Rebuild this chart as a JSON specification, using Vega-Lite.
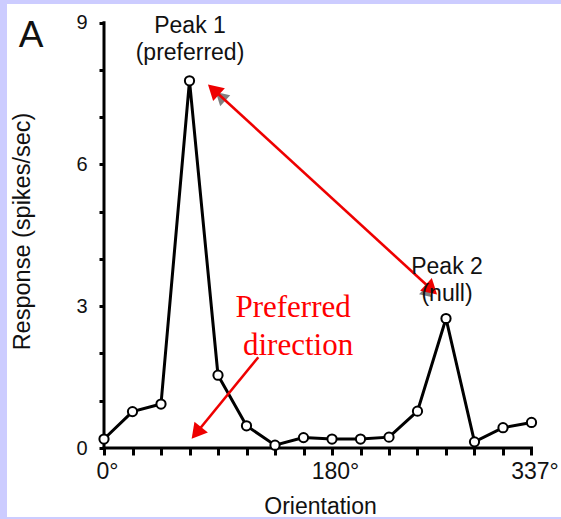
{
  "$schema": "https://vega.github.io/schema/vega-lite/v6.json",
  "width": 554,
  "height": 513,
  "autosize": {"type": "none"},
  "padding": {"left": 7, "top": 4, "right": 0, "bottom": 2},
  "background": "#ccccff",
  "config": {
    "view": {"fill": "white", "stroke": null},
    "font": "Liberation Sans",
    "axis": {
      "grid": false,
      "domain": false,
      "tickColor": "#000000",
      "tickWidth": 3,
      "labelColor": "#111111",
      "titleColor": "#111111",
      "labelFont": "Liberation Sans",
      "titleFont": "Liberation Sans",
      "titleFontWeight": "normal",
      "labelOverlap": false,
      "labelFlush": false
    }
  },
  "datasets": {
    "tuning": [
      {"orientation": 0, "response": 0.19},
      {"orientation": 22.5, "response": 0.77},
      {"orientation": 45, "response": 0.93},
      {"orientation": 67.5, "response": 7.77},
      {"orientation": 90, "response": 1.54},
      {"orientation": 112.5, "response": 0.47},
      {"orientation": 135, "response": 0.06},
      {"orientation": 157.5, "response": 0.22},
      {"orientation": 180, "response": 0.19},
      {"orientation": 202.5, "response": 0.19},
      {"orientation": 225, "response": 0.23},
      {"orientation": 247.5, "response": 0.78},
      {"orientation": 270, "response": 2.74},
      {"orientation": 292.5, "response": 0.13},
      {"orientation": 315, "response": 0.43},
      {"orientation": 337.5, "response": 0.54}
    ],
    "axisLines": [
      {"orientation": 0, "response": 0, "orientation2": 337.5, "response2": 0},
      {"orientation": 0, "response": 0, "orientation2": 0, "response2": 9}
    ],
    "arrows": [
      {"arrow": "peaks", "orientation": 87.9, "response": 7.55, "orientation2": 257.1, "response2": 3.39},
      {"arrow": "preferred", "orientation": 121.8, "response": 1.92, "orientation2": 74.2, "response2": 0.36}
    ],
    "heads": [
      {"head": "peak1", "orientation": 87.9, "response": 7.55},
      {"head": "peak2", "orientation": 257.1, "response": 3.39},
      {"head": "preferred", "orientation": 74.2, "response": 0.36},
      {"head": "peak1-shadow", "orientation": 93.2, "response": 7.41},
      {"head": "peak2-shadow", "orientation": 254.2, "response": 3.3}
    ],
    "labels": [
      {"role": "panel", "label": "A", "orientation": -57.5, "response": 8.48},
      {"role": "peak", "label": "Peak 1", "orientation": 67.9, "response": 8.79},
      {"role": "peak", "label": "(preferred)", "orientation": 67.9, "response": 8.22},
      {"role": "peak", "label": "Peak 2", "orientation": 270.8, "response": 3.68},
      {"role": "peak", "label": "(null)", "orientation": 270.8, "response": 3.1},
      {"role": "note", "label": "Preferred", "orientation": 149.3, "response": 2.77},
      {"role": "note", "label": "direction", "orientation": 153.2, "response": 1.97}
    ]
  },
  "encoding": {
    "x": {
      "field": "orientation",
      "type": "quantitative",
      "scale": {"domain": [-76.58, 360.79], "nice": false, "zero": false},
      "axis": {
        "orient": "bottom",
        "offset": -69,
        "values": [0, 22.5, 45, 67.5, 90, 112.5, 135, 157.5, 180, 202.5, 225, 247.5, 270, 292.5, 315, 337.5],
        "labelExpr": "datum.value === 0 ? '0°' : datum.value === 180 ? '180°' : datum.value === 337.5 ? '337°' : ''",
        "labelFontSize": 23,
        "labelOffset": 3,
        "labelPadding": 5,
        "tickSize": 7,
        "tickWidth": 3,
        "tickColor": "#000000",
        "title": "Orientation",
        "titleFontSize": 23,
        "titleX": 313,
        "titleY": 65,
        "titleBaseline": "alphabetic"
      }
    },
    "y": {
      "field": "response",
      "type": "quantitative",
      "scale": {"domain": [-1.46, 9.395], "nice": false, "zero": false},
      "axis": {
        "orient": "left",
        "offset": -97,
        "values": [0, 1, 2, 3, 4, 5, 6, 7, 8, 9],
        "labelExpr": "datum.value % 3 === 0 ? datum.label : ''",
        "labelFontSize": 20,
        "labelPadding": 12,
        "tickSize": 5,
        "tickWidth": 3,
        "tickColor": "#000000",
        "title": "Response (spikes/sec)",
        "titleFontSize": 23.5,
        "titleAngle": -90,
        "titleX": -74.5,
        "titleY": 227,
        "titleBaseline": "alphabetic"
      }
    }
  },
  "layer": [
    {
      "data": {"name": "axisLines"},
      "mark": {"type": "rule", "color": "#000000", "strokeWidth": 3, "strokeCap": "square"},
      "encoding": {
        "x2": {"field": "orientation2"},
        "y2": {"field": "response2"}
      }
    },
    {
      "data": {"name": "tuning"},
      "mark": {"type": "line", "color": "#000000", "strokeWidth": 3}
    },
    {
      "data": {"name": "tuning"},
      "mark": {"type": "point", "shape": "circle", "size": 85, "filled": true, "fill": "white", "stroke": "#000000", "strokeWidth": 2, "opacity": 1}
    },
    {
      "data": {"name": "heads"},
      "transform": [{"filter": "datum.head === 'peak1-shadow'"}],
      "mark": {"type": "point", "shape": "triangle", "size": 220, "filled": true, "color": "#808080", "opacity": 1, "angle": 312.6}
    },
    {
      "data": {"name": "heads"},
      "transform": [{"filter": "datum.head === 'peak2-shadow'"}],
      "mark": {"type": "point", "shape": "triangle", "size": 160, "filled": true, "color": "#808080", "opacity": 1, "angle": 132.6}
    },
    {
      "data": {"name": "arrows"},
      "mark": {"type": "rule", "color": "#ee0000", "strokeWidth": 2.6},
      "encoding": {
        "x2": {"field": "orientation2"},
        "y2": {"field": "response2"}
      }
    },
    {
      "data": {"name": "heads"},
      "transform": [{"filter": "datum.head === 'peak1'"}],
      "mark": {"type": "point", "shape": "triangle", "size": 300, "filled": true, "color": "#ee0000", "opacity": 1, "angle": 312.6}
    },
    {
      "data": {"name": "heads"},
      "transform": [{"filter": "datum.head === 'peak2'"}],
      "mark": {"type": "point", "shape": "triangle", "size": 300, "filled": true, "color": "#ee0000", "opacity": 1, "angle": 132.6}
    },
    {
      "data": {"name": "heads"},
      "transform": [{"filter": "datum.head === 'preferred'"}],
      "mark": {"type": "point", "shape": "triangle", "size": 300, "filled": true, "color": "#ee0000", "opacity": 1, "angle": 219.3}
    },
    {
      "data": {"name": "labels"},
      "transform": [{"filter": "datum.role === 'panel'"}],
      "mark": {"type": "text", "font": "Liberation Sans", "fontSize": 37, "color": "#111111", "align": "center", "baseline": "alphabetic"},
      "encoding": {"text": {"field": "label"}}
    },
    {
      "data": {"name": "labels"},
      "transform": [{"filter": "datum.role === 'peak'"}],
      "mark": {"type": "text", "font": "Liberation Sans", "fontSize": 23, "color": "#111111", "align": "center", "baseline": "alphabetic"},
      "encoding": {"text": {"field": "label"}}
    },
    {
      "data": {"name": "labels"},
      "transform": [{"filter": "datum.role === 'note'"}],
      "mark": {"type": "text", "font": "Liberation Serif", "fontSize": 31, "color": "#ff0000", "align": "center", "baseline": "alphabetic"},
      "encoding": {"text": {"field": "label"}}
    }
  ]
}
